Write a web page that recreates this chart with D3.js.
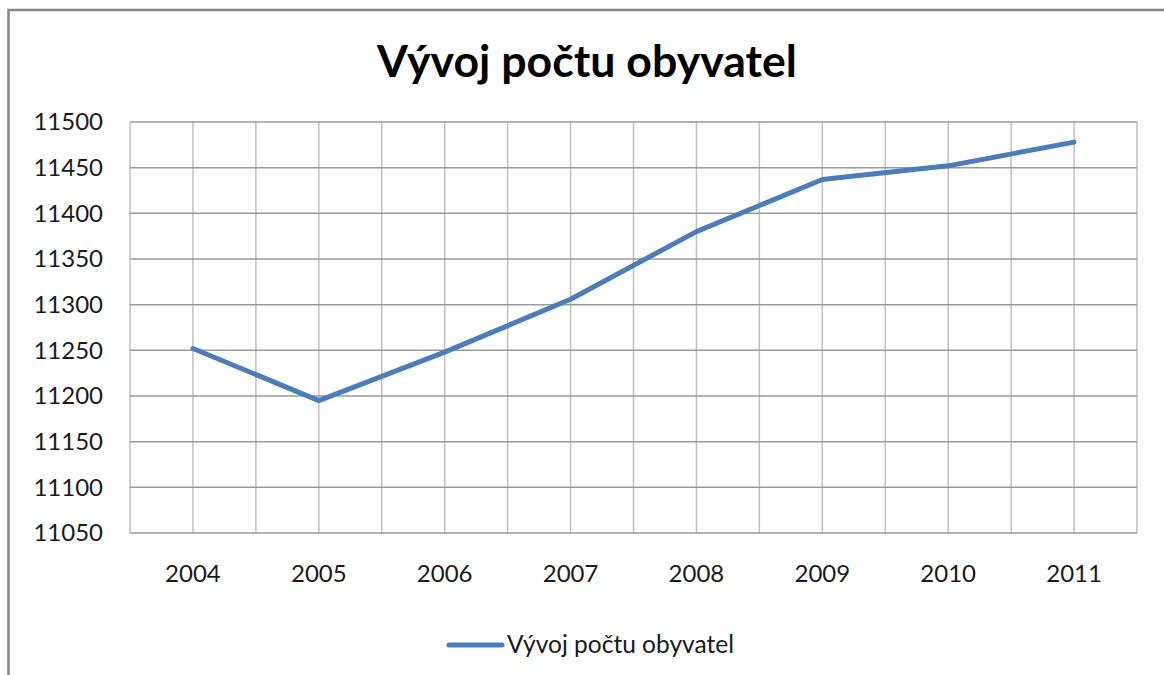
<!DOCTYPE html>
<html>
<head>
<meta charset="utf-8">
<script src="https://cdn.jsdelivr.net/npm/d3@7"></script>
<style>
  body { margin: 0; background: #fff; }
  svg { display: block; font-family: Lato, "Open Sans", sans-serif; }
  .grid line { stroke: #bfbfbf; stroke-width: 1.5; }
  .grid .h { stroke: #9a9a9a; }
</style>
</head>
<body>
<svg id="chart" width="1164" height="675"></svg>
<script>
'use strict';

var years = ['2004', '2005', '2006', '2007', '2008', '2009', '2010', '2011'];
var population = [11252, 11195, 11248, 11306, 11380, 11437, 11452, 11478];
var yTicks = [11050, 11100, 11150, 11200, 11250, 11300, 11350, 11400, 11450, 11500];
var title = 'Vývoj počtu obyvatel';
var seriesName = 'Vývoj počtu obyvatel';

var svg = d3.select('#chart'),
  margin = {top: 122, left: 130, right: 27, bottom: 142},
  width = +svg.attr('width') - margin.left - margin.right,
  height = +svg.attr('height') - margin.top - margin.bottom;

// outer chart frame (only top and left edges show)
svg.append('rect')
  .attr('x', 8.5).attr('y', 10)
  .attr('width', 1200).attr('height', 700)
  .attr('fill', 'none')
  .attr('stroke', '#868686')
  .attr('stroke-width', 2.5);

var g = svg.append('g').attr('transform', 'translate(' + margin.left + ',' + margin.top + ')');

var x = d3.scaleBand()
  .domain(years)
  .range([0, width]);

var y = d3.scaleLinear()
  .domain([11050, 11500])
  .range([height, 0]);

// vertical grid: category boundaries and centres
var vLines = [];
years.forEach(function (d) {
  vLines.push(x(d));
  vLines.push(x(d) + x.bandwidth() / 2);
});
vLines.push(width);

var grid = g.append('g').attr('class', 'grid');

grid.selectAll('line.v')
  .data(vLines)
  .enter().append('line')
  .attr('class', 'v')
  .attr('x1', function (d) { return d; })
  .attr('x2', function (d) { return d; })
  .attr('y1', 0)
  .attr('y2', height);

grid.selectAll('line.h')
  .data(yTicks)
  .enter().append('line')
  .attr('class', 'h')
  .attr('x1', 0)
  .attr('x2', width)
  .attr('y1', function (d) { return y(d); })
  .attr('y2', function (d) { return y(d); });

// y axis labels
var yAxis = g.append('g')
  .call(d3.axisLeft(y).tickValues(yTicks).tickSize(0).tickPadding(27).tickFormat(d3.format('d')));
yAxis.select('.domain').remove();
yAxis.selectAll('text')
  .attr('font-size', 24)
  .attr('font-family', 'Lato, sans-serif')
  .attr('fill', '#1a1a1a');

// x axis labels
var xAxis = g.append('g')
  .attr('transform', 'translate(0,' + height + ')')
  .call(d3.axisBottom(x).tickSize(0).tickPadding(32));
xAxis.select('.domain').remove();
xAxis.selectAll('text')
  .attr('font-size', 24)
  .attr('font-family', 'Lato, sans-serif')
  .attr('fill', '#1a1a1a');

var line = d3.line()
  .x(function (d, i) { return x(years[i]) + x.bandwidth() / 2; })
  .y(function (d) { return y(d); });

g.append('path')
  .datum(population)
  .attr('d', line)
  .attr('fill', 'none')
  .attr('stroke', '#4a7ebb')
  .attr('stroke-width', 5)
  .attr('stroke-linejoin', 'round')
  .attr('stroke-linecap', 'round');

// title, fitted to the width it has in the picture
var t = svg.append('text')
  .attr('x', 587)
  .attr('y', 77)
  .attr('text-anchor', 'middle')
  .attr('font-weight', 'bold')
  .attr('font-size', 42)
  .attr('fill', '#000')
  .text(title);
var tw = t.node().getComputedTextLength();
t.attr('font-size', 42 * 420 / tw);

// legend
var lg = svg.append('g').attr('transform', 'translate(449,645)');
lg.append('line')
  .attr('x1', 0).attr('x2', 53)
  .attr('stroke', '#4a7ebb')
  .attr('stroke-width', 5)
  .attr('stroke-linecap', 'round');
var lt = lg.append('text')
  .attr('x', 58)
  .attr('y', 8)
  .attr('font-size', 22)
  .attr('fill', '#1a1a1a')
  .text(seriesName);
var lw = lt.node().getComputedTextLength();
lt.attr('font-size', 22 * 227 / lw);
</script>
</body>
</html>
